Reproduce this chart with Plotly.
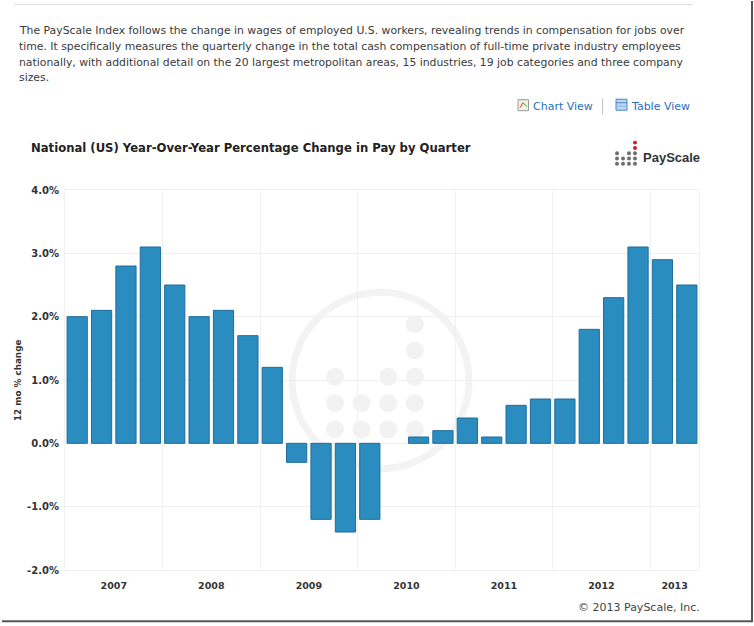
import plotly.graph_objects as go

W, H = 754, 626
L, R, T, B = 65, 699, 189.5, 570.5

years = ['2007', '2008', '2009', '2010', '2011', '2012', '2013']
quarters_in_year = [4, 4, 4, 4, 4, 4, 2]
# 2010 Q2 reads as zero, no bar is drawn there
change = [2.0, 2.1, 2.8, 3.1,
          2.5, 2.0, 2.1, 1.7,
          1.2, -0.3, -1.2, -1.4,
          -1.2, None, 0.1, 0.2,
          0.4, 0.1, 0.6, 0.7,
          0.7, 1.8, 2.3, 3.1,
          2.9, 2.5]
y_ticks = [-2, -1, 0, 1, 2, 3, 4]
y_labels = ['-2.0%', '-1.0%', '0.0%', '1.0%', '2.0%', '3.0%', '4.0%']

intro = ['The PayScale Index follows the change in wages of employed U.S. workers, revealing trends in compensation for jobs over',
         'time. It specifically measures the quarterly change in the total cash compensation of full-time private industry employees',
         'nationally, with additional detail on the 20 largest metropolitan areas, 15 industries, 19 job categories and three company',
         'sizes.']
title = 'National (US) Year-Over-Year Percentage Change in Pay by Quarter'

# year centres for the labels, year edges for the vertical grid
centers, edges = [], []
pos = -0.5
for n in quarters_in_year:
    centers.append(pos + n / 2)
    pos += n
    edges.append(pos)


def dot(x, y, r, color):
    return dict(type='circle', xref='paper', yref='paper', layer='below',
                x0=(x - r - L) / (R - L), x1=(x + r - L) / (R - L),
                y0=(B - y - r) / (B - T), y1=(B - y + r) / (B - T),
                fillcolor=color, line_width=0)


def box(x0, y0, x1, y1, fill='rgba(0,0,0,0)', line='rgba(0,0,0,0)', lw=0):
    return dict(type='rect', xref='paper', yref='paper', layer='above',
                x0=(x0 - L) / (R - L), x1=(x1 - L) / (R - L),
                y0=(B - y0) / (B - T), y1=(B - y1) / (B - T),
                fillcolor=fill, line=dict(color=line, width=lw))


def seg(x0, y0, x1, y1, color, lw=1):
    return dict(type='line', xref='paper', yref='paper', layer='above',
                x0=(x0 - L) / (R - L), x1=(x1 - L) / (R - L),
                y0=(B - y0) / (B - T), y1=(B - y1) / (B - T),
                line=dict(color=color, width=lw))


def note(x, y, text, size, color='#3a3a3a', family='DejaVu Sans', anchor='left', bold=False, angle=0):
    if bold:
        text = '<b>' + text + '</b>'
    return dict(xref='paper', yref='paper', showarrow=False,
                x=(x - L) / (R - L), y=(B - y) / (B - T),
                xanchor=anchor, yanchor='middle', text=text, textangle=angle,
                font=dict(family=family, size=size, color=color))


# the mark is the same pattern big (watermark) and small (logo)
mark_cols = [[2, 3, 4], [3, 4], [2, 3, 4], [0, 1, 2, 3, 4]]

shapes = []
# watermark
shapes.append(dict(type='circle', xref='paper', yref='paper', layer='below',
                   x0=(292 - L) / (R - L), x1=(469 - L) / (R - L),
                   y0=(B - 469) / (B - T), y1=(B - 292) / (B - T),
                   line=dict(color='#f3f3f3', width=7)))
for c, rows in enumerate(mark_cols):
    for r in rows:
        shapes.append(dot(335 + c * 26.6, 324 + r * 26.4, 9, '#f2f2f2'))
# logo
for c, rows in enumerate(mark_cols):
    for r in rows:
        color = '#c8202f' if c == 3 and r < 2 else '#6b6f73'
        shapes.append(dot(617 + c * 6, 142 + r * 5.3, 2, color))

# page furniture: top rule, screenshot frame, view switch icons
shapes.append(box(14, 3, 693, 4, fill='#dddddd'))
shapes.append(box(2, 621, 752, 623, fill='#555555'))
shapes.append(box(751, 0, 753, 623, fill='#555555'))
shapes.append(box(602, 98, 603, 114, fill='#c4c4c4'))
shapes.append(box(518, 99, 528.5, 110, fill='#f4f0e4', line='#9a9a9a', lw=1))
shapes.append(seg(520, 107, 523, 102, '#c8402f'))
shapes.append(seg(523, 102, 527, 106, '#3f9a3f'))
shapes.append(box(616, 98.5, 627, 109.5, fill='#bcd7f0', line='#4c86c6', lw=1))
shapes.append(seg(616, 102, 627, 102, '#4c86c6'))
shapes.append(seg(616, 105.5, 627, 105.5, '#8db5e0'))

annotations = [note(17, 30 + i * 15.6, line, 10.83) for i, line in enumerate(intro)]
annotations += [
    note(531, 106, 'Chart View', 11, color='#2a6ebb'),
    note(629, 106, 'Table View', 11, color='#2a6ebb'),
    note(29, 147, title, 11.65, color='#222222', bold=True),
    note(641, 157, 'PayScale', 13, color='#333333', family='Liberation Sans', bold=True),
    note(11, 381, '12 mo % change', 8.8, color='#333333', bold=True, angle=-90),
    note(702, 608, '© 2013 PayScale, Inc.', 11, color='#444444', anchor='right'),
]

fig = go.Figure(go.Bar(
    x=list(range(len(change))),
    y=change,
    width=0.83,
    marker=dict(color='#2b8cc0', line=dict(color='#1f6d9c', width=1))))

fig.update_layout(
    width=W, height=H, autosize=False,
    margin=dict(l=L, r=W - R, t=T, b=H - B, pad=0),
    paper_bgcolor='white', plot_bgcolor='rgba(0,0,0,0)',
    showlegend=False,
    shapes=shapes, annotations=annotations,
    xaxis=dict(range=[-0.5, len(change) - 0.5],
               tickmode='array', tickvals=centers, ticktext=['<b>%s</b>' % y for y in years],
               ticks='outside', ticklen=7, tickcolor='rgba(0,0,0,0)',
               showgrid=False, zeroline=False,
               showline=True, linecolor='#f0f0f0', mirror=True,
               tickfont=dict(family='DejaVu Sans', size=9.5, color='#333333'),
               minor=dict(tickmode='array', tickvals=edges, showgrid=True,
                          gridcolor='#f0f0f0', gridwidth=1, ticks='')),
    yaxis=dict(range=[-2, 4],
               tickmode='array', tickvals=y_ticks, ticktext=['<b>%s</b>' % y for y in y_labels],
               ticks='outside', ticklen=3, tickcolor='rgba(0,0,0,0)',
               showgrid=True, gridcolor='#f0f0f0', gridwidth=1, zeroline=False,
               showline=True, linecolor='#f0f0f0', mirror=True,
               tickfont=dict(family='DejaVu Sans', size=10, color='#333333')))

fig.write_html("out.html", config=dict(displayModeBar=False),
               post_script="document.body.style.margin='0';document.body.style.overflow='hidden';")
